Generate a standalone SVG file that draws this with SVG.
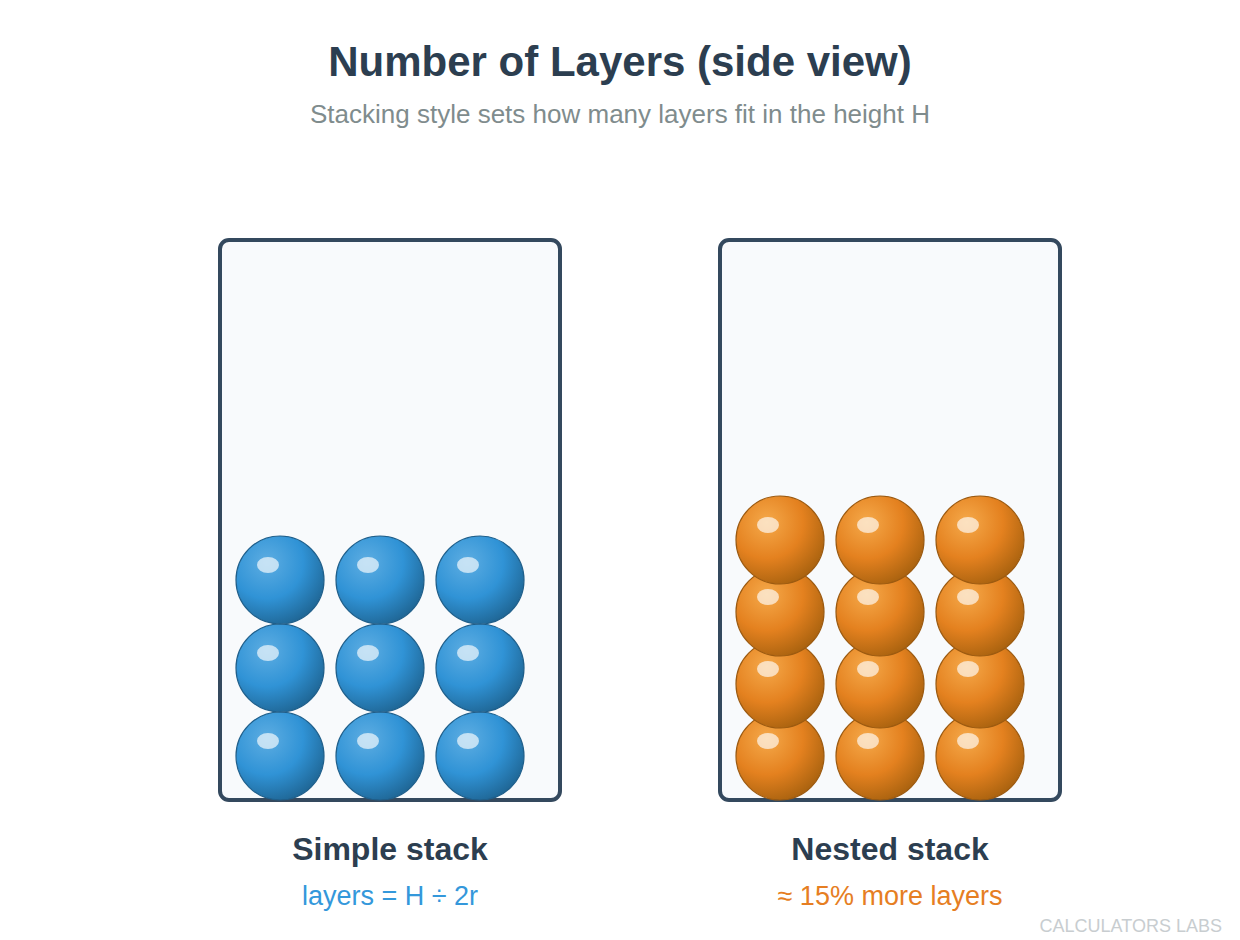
<svg xmlns="http://www.w3.org/2000/svg" width="1240" height="940" viewBox="0 0 1240 940">
<defs>
<radialGradient id="gb" cx="0.35" cy="0.3" r="0.75"><stop offset="0" stop-color="#5dade2"/><stop offset="0.55" stop-color="#3093d6"/><stop offset="1" stop-color="#1f6695"/></radialGradient>
<radialGradient id="go" cx="0.35" cy="0.3" r="0.75"><stop offset="0" stop-color="#f5a94a"/><stop offset="0.55" stop-color="#e4811f"/><stop offset="1" stop-color="#a9620f"/></radialGradient>
<style>
.box{fill:#f8fafc;stroke:#34495e;stroke-width:4}
.b{fill:url(#gb);stroke:#1f5f8b;stroke-width:1.2}
.o{fill:url(#go);stroke:#9c5a10;stroke-width:1.2}
.hl{fill:#ffffff;opacity:0.65}
.t{font-family:"Liberation Sans",Arial,sans-serif;text-anchor:middle}
</style>
</defs>
<rect width="1240" height="940" fill="#ffffff"/>
<text class="t" x="620" y="76" font-size="42" font-weight="bold" fill="#2c3e50">Number of Layers (side view)</text>
<text class="t" x="620" y="123" font-size="26" fill="#7f8c8d">Stacking style sets how many layers fit in the height H</text>
<g id="simple">
<rect class="box" x="220" y="240" width="340" height="560" rx="9"/>
<g>
<circle class="b" cx="280" cy="756" r="44"/><ellipse class="hl" cx="268" cy="741" rx="11" ry="8"/>
<circle class="b" cx="380" cy="756" r="44"/><ellipse class="hl" cx="368" cy="741" rx="11" ry="8"/>
<circle class="b" cx="480" cy="756" r="44"/><ellipse class="hl" cx="468" cy="741" rx="11" ry="8"/>
<circle class="b" cx="280" cy="668" r="44"/><ellipse class="hl" cx="268" cy="653" rx="11" ry="8"/>
<circle class="b" cx="380" cy="668" r="44"/><ellipse class="hl" cx="368" cy="653" rx="11" ry="8"/>
<circle class="b" cx="480" cy="668" r="44"/><ellipse class="hl" cx="468" cy="653" rx="11" ry="8"/>
<circle class="b" cx="280" cy="580" r="44"/><ellipse class="hl" cx="268" cy="565" rx="11" ry="8"/>
<circle class="b" cx="380" cy="580" r="44"/><ellipse class="hl" cx="368" cy="565" rx="11" ry="8"/>
<circle class="b" cx="480" cy="580" r="44"/><ellipse class="hl" cx="468" cy="565" rx="11" ry="8"/>
</g>
<text class="t" x="390" y="860" font-size="32" font-weight="bold" fill="#2c3e50">Simple stack</text>
<text class="t" x="390" y="905" font-size="27" fill="#3498db">layers = H ÷ 2r</text>
</g>
<g id="nested">
<rect class="box" x="720" y="240" width="340" height="560" rx="9"/>
<g>
<circle class="o" cx="780" cy="756" r="44"/><ellipse class="hl" cx="768" cy="741" rx="11" ry="8"/>
<circle class="o" cx="880" cy="756" r="44"/><ellipse class="hl" cx="868" cy="741" rx="11" ry="8"/>
<circle class="o" cx="980" cy="756" r="44"/><ellipse class="hl" cx="968" cy="741" rx="11" ry="8"/>
<circle class="o" cx="780" cy="684" r="44"/><ellipse class="hl" cx="768" cy="669" rx="11" ry="8"/>
<circle class="o" cx="880" cy="684" r="44"/><ellipse class="hl" cx="868" cy="669" rx="11" ry="8"/>
<circle class="o" cx="980" cy="684" r="44"/><ellipse class="hl" cx="968" cy="669" rx="11" ry="8"/>
<circle class="o" cx="780" cy="612" r="44"/><ellipse class="hl" cx="768" cy="597" rx="11" ry="8"/>
<circle class="o" cx="880" cy="612" r="44"/><ellipse class="hl" cx="868" cy="597" rx="11" ry="8"/>
<circle class="o" cx="980" cy="612" r="44"/><ellipse class="hl" cx="968" cy="597" rx="11" ry="8"/>
<circle class="o" cx="780" cy="540" r="44"/><ellipse class="hl" cx="768" cy="525" rx="11" ry="8"/>
<circle class="o" cx="880" cy="540" r="44"/><ellipse class="hl" cx="868" cy="525" rx="11" ry="8"/>
<circle class="o" cx="980" cy="540" r="44"/><ellipse class="hl" cx="968" cy="525" rx="11" ry="8"/>
</g>
<text class="t" x="890" y="860" font-size="32" font-weight="bold" fill="#2c3e50">Nested stack</text>
<text class="t" x="890" y="905" font-size="27" fill="#e67e22">≈ 15% more layers</text>
</g>
<text x="1222" y="932" font-family="Liberation Sans,Arial,sans-serif" font-size="18" fill="#c8cdd0" text-anchor="end">CALCULATORS LABS</text>
</svg>
